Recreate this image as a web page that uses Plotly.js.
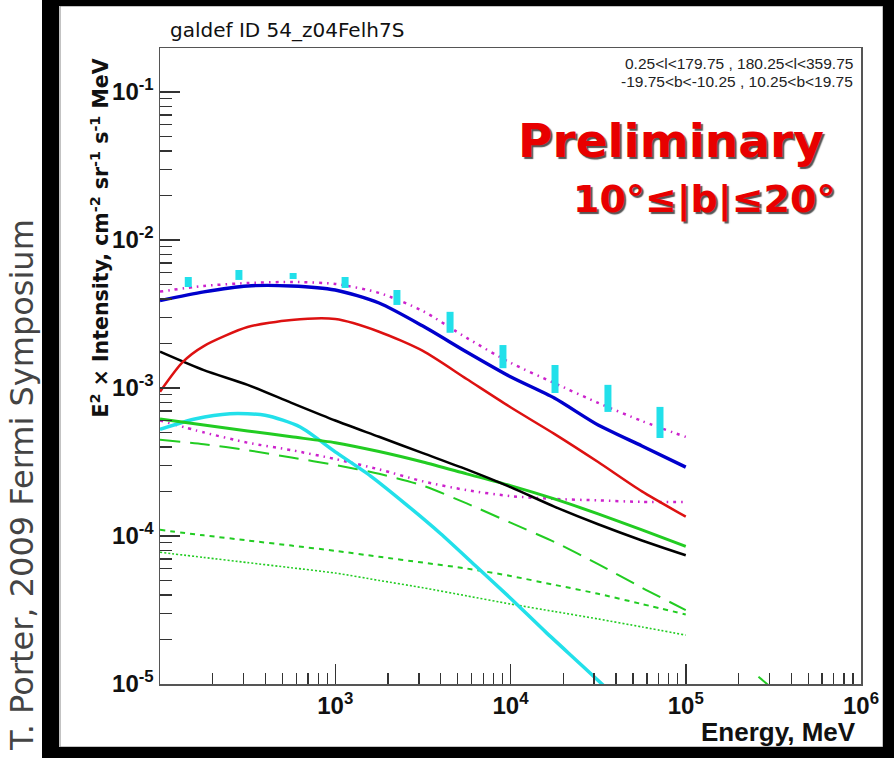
<!DOCTYPE html>
<html><head><meta charset="utf-8">
<script src="https://cdn.plot.ly/plotly-3.0.1.min.js"></script>
<style>html,body{margin:0;padding:0;background:#fff;} #chart{width:894px;height:758px;}</style>
</head><body><div id="chart"></div>
<script>
// ---- data (E in MeV, E^2 x intensity in cm^-2 sr^-1 s^-1 MeV) ----
const energyGrid = [100, 177.8, 316.2, 562.3, 1000, 1778, 3162, 5623, 10000, 17783, 31623, 56234, 100000];
const totalModel   = [3.89e-3, 4.46e-3, 4.89e-3, 4.89e-3, 4.59e-3, 3.75e-3, 2.62e-3, 1.75e-3, 1.19e-3, 8.55e-4, 5.62e-4, 4.06e-4, 2.92e-4];
const totalUpper   = [4.48e-3, 4.89e-3, 5.12e-3, 5.20e-3, 5.05e-3, 4.39e-3, 3.31e-3, 2.18e-3, 1.48e-3, 1.08e-3, 7.93e-4, 5.98e-4, 4.67e-4];
const blackSolid   = [1.76e-3, 1.32e-3, 1.05e-3, 7.94e-4, 6.03e-4, 4.68e-4, 3.63e-4, 2.82e-4, 2.14e-4, 1.58e-4, 1.20e-4, 9.33e-5, 7.41e-5];
const greenSolid   = [6.17e-4, 5.62e-4, 5.13e-4, 4.68e-4, 4.27e-4, 3.72e-4, 3.16e-4, 2.63e-4, 2.19e-4, 1.78e-4, 1.41e-4, 1.10e-4, 8.51e-5];
const greenLongDash= [4.47e-4, 4.17e-4, 3.80e-4, 3.39e-4, 3.02e-4, 2.63e-4, 2.19e-4, 1.66e-4, 1.23e-4, 9.12e-5, 6.46e-5, 4.47e-5, 3.16e-5];
const magentaLower = [6.03e-4, 5.01e-4, 4.27e-4, 3.80e-4, 3.31e-4, 2.82e-4, 2.34e-4, 2.04e-4, 1.86e-4, 1.78e-4, 1.74e-4, 1.70e-4, 1.70e-4];
const greenShortDash=[1.10e-4, 1.01e-4, 9.33e-5, 8.61e-5, 7.94e-5, 7.24e-5, 6.61e-5, 6.03e-5, 5.37e-5, 4.68e-5, 4.07e-5, 3.47e-5, 2.95e-5];
const greenDotted  = [7.76e-5, 7.16e-5, 6.61e-5, 6.10e-5, 5.62e-5, 5.01e-5, 4.47e-5, 3.94e-5, 3.47e-5, 3.09e-5, 2.75e-5, 2.43e-5, 2.14e-5];

const redEnergy = [100, 135, 177.8, 316.2, 562.3, 1000, 1778, 3162, 5623, 10000, 17783, 31623, 56234, 100000];
const redSolid  = [9.44e-4, 1.50e-3, 1.92e-3, 2.58e-3, 2.88e-3, 2.92e-3, 2.40e-3, 1.78e-3, 1.15e-3, 7.41e-4, 4.90e-4, 3.16e-4, 2.00e-4, 1.35e-4];

const cyanEnergy = [100, 158, 251, 398, 631, 1000, 1585, 2512, 3981, 6310, 10000, 15849, 25119, 39811];
const cyanSolid  = [5.25e-4, 6.17e-4, 6.70e-4, 6.55e-4, 5.45e-4, 3.70e-4, 2.55e-4, 1.65e-4, 1.04e-4, 6.30e-5, 3.80e-5, 2.25e-5, 1.36e-5, 8.20e-6];

const greenTailE = [2.6e5, 3.0e5];
const greenTailY = [1.12e-5, 0.97e-5];

const dataEnergy = [145, 282, 575, 1138, 2249, 4519, 9057, 17950, 35975, 71285];
const dataHigh   = [5.62e-3, 6.27e-3, 5.98e-3, 5.62e-3, 4.59e-3, 3.27e-3, 1.95e-3, 1.43e-3, 1.05e-3, 7.45e-4];
const dataLow    = [4.81e-3, 5.37e-3, 5.45e-3, 4.74e-3, 3.64e-3, 2.36e-3, 1.36e-3, 9.25e-4, 6.89e-4, 4.59e-4];

const xTickVals = [1e3, 1e4, 1e5, 1e6];
const xTickText = ['10<sup>3</sup>', '10<sup>4</sup>', '10<sup>5</sup>', '10<sup>6</sup>'];
const yTickVals = [1e-5, 1e-4, 1e-3, 1e-2, 1e-1];
const yTickText = ['10<sup>-5</sup>', '10<sup>-4</sup>', '10<sup>-3</sup>', '10<sup>-2</sup>', '10<sup>-1</sup>'];

// ---- minor tick positions (2..9 per decade) ----
function minorTicks(d0, d1) {
  const out = [];
  for (let d = d0; d <= d1; d++) for (let m = 2; m <= 9; m++) out.push(m * Math.pow(10, d));
  return out;
}

// ---- layout helpers (pixel -> paper) ----
const W = 894, H = 758, ML = 160, MR = 33, MT = 48, MB = 74;
const PW = W - ML - MR, PH = H - MT - MB;
const px = p => (p - ML) / PW;
const py = p => (H - MB - p) / PH;

const CYAN = '#22e0ea', GREEN = '#22cc22', MAG = '#cc22cc';
const DASHDOT = '3px,5px,1.5px,5px';
function line(x, y, color, width, dash) {
  return {x: x, y: y, type: 'scatter', mode: 'lines',
          line: {color: color, width: width, dash: dash || 'solid', shape: 'spline', smoothing: 0.7},
          hoverinfo: 'skip'};
}

const dataCenter = dataHigh.map((h, i) => Math.sqrt(h * dataLow[i]));
const traces = [
  line(energyGrid, greenDotted, GREEN, 1.6, '2px,2px'),
  line(energyGrid, greenShortDash, GREEN, 2, '5px,5px'),
  line(energyGrid, greenLongDash, GREEN, 2, '20px,10px'),
  line(energyGrid, magentaLower, MAG, 2.5, DASHDOT),
  line(cyanEnergy, cyanSolid, CYAN, 3.5),
  line(energyGrid, greenSolid, GREEN, 3),
  line(energyGrid, blackSolid, '#000000', 2.5),
  line(redEnergy, redSolid, '#dd1111', 2.5),
  line(energyGrid, totalModel, '#0000cc', 3.4),
  line(energyGrid, totalUpper, MAG, 2.5, DASHDOT),
  line(greenTailE, greenTailY, GREEN, 2),
  {
    x: dataEnergy, y: dataCenter, type: 'scatter', mode: 'markers',
    marker: {size: 1, color: CYAN},
    error_y: {type: 'data', symmetric: false,
      array: dataHigh.map((h, i) => h - dataCenter[i]),
      arrayminus: dataLow.map((l, i) => dataCenter[i] - l),
      color: CYAN, thickness: 7, width: 0},
    hoverinfo: 'skip'
  }
];

const tickFont = {family: 'Liberation Sans, Arial, sans-serif', size: 24, weight: 'bold', color: '#111'};
const axisCommon = {
  type: 'log', showline: true, mirror: true, linecolor: '#555', linewidth: 1.5,
  ticks: 'inside', ticklen: 20, tickwidth: 1.5, tickcolor: '#333',
  showgrid: false, zeroline: false, tickfont: tickFont, tickmode: 'array'
};

const layout = {
  width: W, height: H,
  margin: {l: ML, r: MR, t: MT, b: MB},
  paper_bgcolor: '#ffffff', plot_bgcolor: '#ffffff',
  showlegend: false,
  xaxis: Object.assign({}, axisCommon, {
    range: [2, 6], tickvals: xTickVals, ticktext: xTickText,
    minor: {tickvals: minorTicks(2, 5), ticks: 'inside', ticklen: 11, tickwidth: 1.3, tickcolor: '#333', showgrid: false}
  }),
  yaxis: Object.assign({}, axisCommon, {
    range: [-5, -0.703], tickvals: yTickVals, ticktext: yTickText,
    minor: {tickvals: minorTicks(-5, -1), ticks: 'inside', ticklen: 12, tickwidth: 1.3, tickcolor: '#333', showgrid: false}
  }),
  shapes: [
    {type: 'rect', xref: 'paper', yref: 'paper', x0: px(60), x1: px(883), y0: py(6), y1: py(747), line: {color: '#888', width: 1}, fillcolor: 'rgba(0,0,0,0)', layer: 'below'},
    {type: 'rect', xref: 'paper', yref: 'paper', x0: px(42), x1: px(59), y0: py(0), y1: py(758), line: {width: 0}, fillcolor: '#000'},
    {type: 'rect', xref: 'paper', yref: 'paper', x0: px(42), x1: px(894), y0: py(0), y1: py(6), line: {width: 0}, fillcolor: '#000'},
    {type: 'rect', xref: 'paper', yref: 'paper', x0: px(42), x1: px(894), y0: py(747), y1: py(758), line: {width: 0}, fillcolor: '#000'},
    {type: 'rect', xref: 'paper', yref: 'paper', x0: px(883), x1: px(894), y0: py(0), y1: py(758), line: {width: 0}, fillcolor: '#000'}
  ],
  annotations: [
    {text: 'galdef ID 54_z04Felh7S', xref: 'paper', yref: 'paper', x: px(168), y: py(30), xanchor: 'left', yanchor: 'middle', showarrow: false,
     font: {family: 'DejaVu Sans, sans-serif', size: 20, color: '#111'}},
    {text: '0.25<l<179.75 , 180.25<l<359.75', xref: 'paper', yref: 'paper', x: px(855), y: py(63), xanchor: 'right', yanchor: 'middle', showarrow: false,
     font: {family: 'Liberation Sans, Arial, sans-serif', size: 15.5, color: '#222'}},
    {text: '-19.75<b<-10.25 , 10.25<b<19.75', xref: 'paper', yref: 'paper', x: px(855), y: py(81), xanchor: 'right', yanchor: 'middle', showarrow: false,
     font: {family: 'Liberation Sans, Arial, sans-serif', size: 15.5, color: '#222'}},
    {text: 'Preliminary', xref: 'paper', yref: 'paper', x: px(826), y: py(140), xanchor: 'right', yanchor: 'middle', showarrow: false,
     font: {family: 'DejaVu Sans, sans-serif', size: 47, weight: 'bold', color: '#e80000', shadow: '2px 2px 1px #555'}},
    {text: '10°≤|b|≤20°', xref: 'paper', yref: 'paper', x: px(837), y: py(199), xanchor: 'right', yanchor: 'middle', showarrow: false,
     font: {family: 'DejaVu Sans, sans-serif', size: 38, weight: 'bold', color: '#e80000', shadow: '2px 2px 1px #555'}},
    {text: 'E<sup>2</sup> × Intensity, cm<sup>-2</sup> sr<sup>-1</sup> s<sup>-1</sup> MeV', xref: 'paper', yref: 'paper', x: px(100), y: py(57),
     xanchor: 'center', yanchor: 'top', textangle: -90, showarrow: false,
     font: {family: 'DejaVu Sans, sans-serif', size: 20.5, weight: 'bold', color: '#111'}},
    {text: 'Energy, MeV', xref: 'paper', yref: 'paper', x: px(858), y: py(732), xanchor: 'right', yanchor: 'middle', showarrow: false,
     font: {family: 'Liberation Sans, Arial, sans-serif', size: 26, weight: 'bold', color: '#111'}},
    {text: 'T. Porter, 2009 Fermi Symposium', xref: 'paper', yref: 'paper', x: px(22), y: py(485), xanchor: 'center', yanchor: 'middle', textangle: -90, showarrow: false,
     font: {family: 'DejaVu Sans, sans-serif', size: 32, color: '#444'}}
  ]
};

Plotly.newPlot('chart', traces, layout, {displayModeBar: false, staticPlot: true});
</script>
</body></html>
